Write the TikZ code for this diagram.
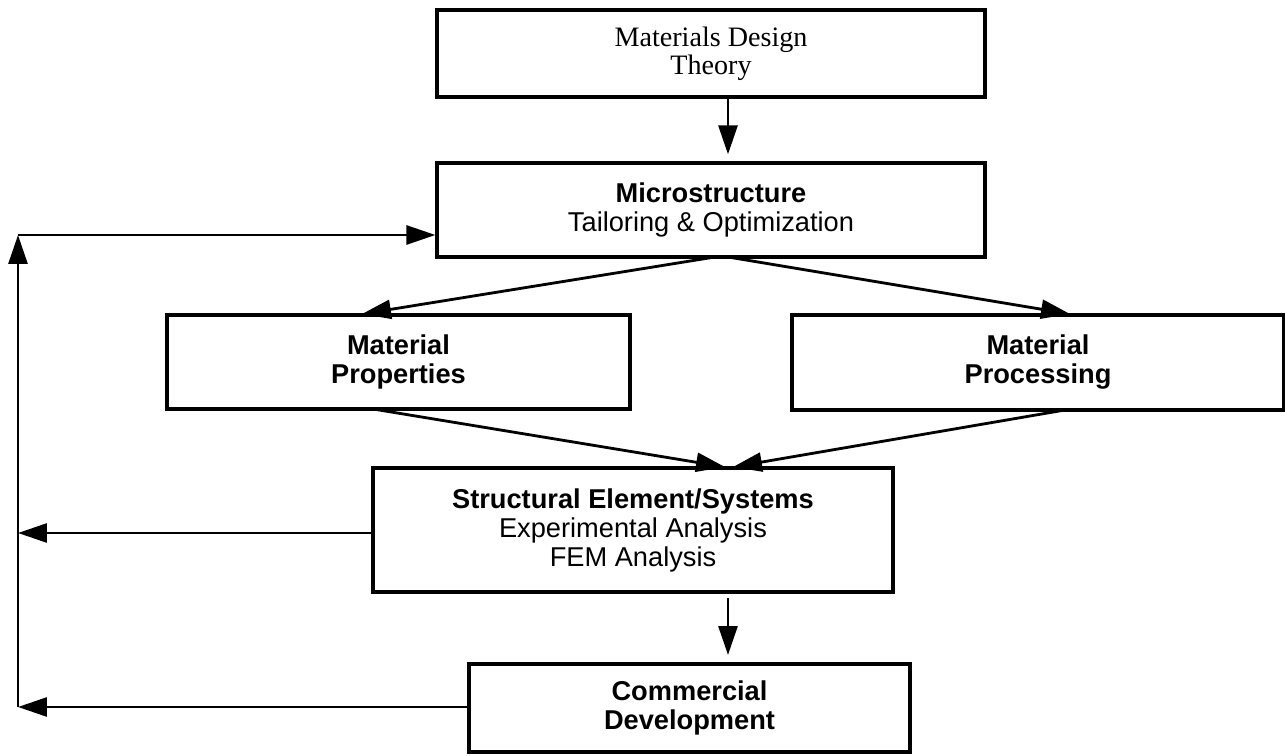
\documentclass[tikz,border=0pt]{standalone}
\usepackage{fontspec}
\setmainfont{Liberation Sans}
\newfontfamily\timesfont{Liberation Serif}
\usetikzlibrary{arrows.meta}
\begin{document}
\begin{tikzpicture}[x=0.02cm,y=-0.02cm,
  box/.style={draw,line width=1.9pt,rectangle,inner sep=0pt,align=center,
    font=\fontsize{15.5}{16.5}\selectfont},
  boldbox/.style={box,font=\bfseries\fontsize{15.5}{16.5}\selectfont},
  conn/.style={line width=1.6pt,-{Triangle[length=0.58cm,width=0.38cm]}}]
\useasboundingbox (0,0) rectangle (1285,756);

\node[box,minimum width=10.96cm,minimum height=1.74cm,
  font=\timesfont\fontsize{16}{16}\selectfont] (design) at (711,53.5) {Materials Design\\Theory};
\node[box,minimum width=10.96cm,minimum height=1.88cm] (micro) at (711,210)
  {\textbf{Microstructure}\\Tailoring \& Optimization};
\node[boldbox,minimum width=9.26cm,minimum height=1.88cm] (props) at (398.5,362)
  {Material\\Properties};
\node[boldbox,minimum width=9.84cm,minimum height=1.9cm] (proc) at (1038,362.5)
  {Material\\Processing};
\node[box,minimum width=10.4cm,minimum height=2.48cm] (struct) at (633,530)
  {\textbf{Structural Element/Systems}\\Experimental Analysis\\FEM Analysis};
\node[boldbox,minimum width=8.82cm,minimum height=1.76cm] (comm) at (689.5,708)
  {Commercial\\Development};

\coordinate (cT) at (18,235);
\coordinate (cS) at (18,533);
\coordinate (cB) at (18,707);
\coordinate (mL) at (715,257);
\coordinate (mR) at (728,257);
\coordinate (pT) at (362,314);
\coordinate (qT) at (1070,314);
\coordinate (pB) at (373,409);
\coordinate (qB) at (1065,410);
\coordinate (sL) at (725,467);
\coordinate (sR) at (733,467);
\coordinate (a1) at (728,598);
\coordinate (a2) at (728,655);

\draw[conn,shorten >=0.14cm] (design.south -| mR) -- (micro.north -| mR);
\draw[conn] (mL) -- (pT);
\draw[conn] (mR) -- (qT);
\draw[conn] (pB) -- (sL);
\draw[conn] (qB) -- (sR);
\draw[conn] (a1) -- (a2);

\draw[conn] (struct.west |- cS) -- (cS);
\draw[conn] (comm.west |- cB) -- (cB);
\draw[conn] (cB) -- (cT);
\draw[conn] (cT) -- (micro.west |- cT);
\end{tikzpicture}
\end{document}
